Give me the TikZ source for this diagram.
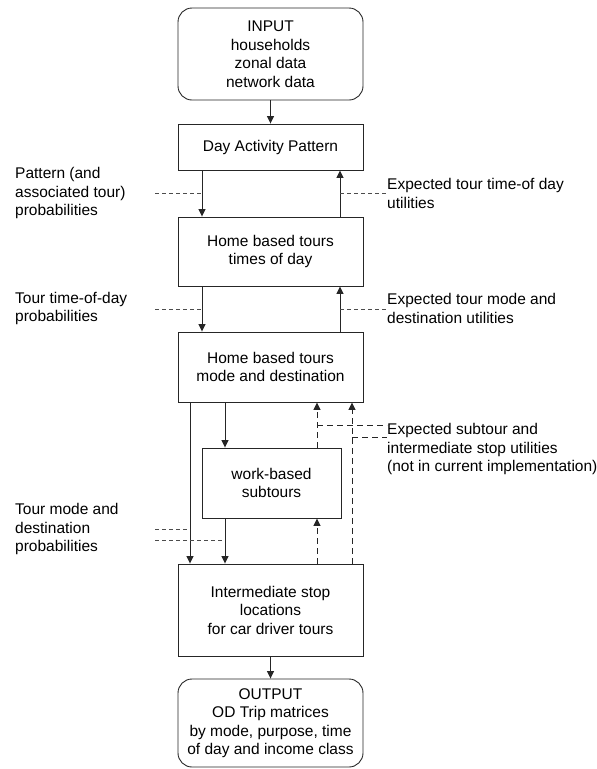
\documentclass[tikz,border=0pt]{standalone}
\usepackage{fontspec}
\setmainfont{Liberation Sans}
\usetikzlibrary{arrows.meta,calc}

\begin{document}
\begin{tikzpicture}[x=1pt,y=-1pt,
  every node/.style={font=\fontsize{15.5}{18.5}\selectfont},
  stepbox/.style={draw=black!85,line width=0.9pt,minimum width=185pt,align=center,inner sep=0pt},
  endbox/.style={stepbox,rounded corners=14pt},
  flow/.style={draw=black!85,line width=0.9pt,-{Triangle[length=7.5pt,width=7pt]}},
  feedback/.style={flow,dash pattern=on 6pt off 4pt},
  leader/.style={draw=black!70,line width=0.8pt,dash pattern=on 4pt off 3pt},
  leaderlong/.style={draw=black!85,line width=0.8pt,dash pattern=on 6pt off 4pt},
  note/.style={anchor=west,align=left,inner sep=0pt}]

\useasboundingbox (0,0) rectangle (597,769);

% model steps
\node[endbox,minimum height=92pt] (input) at (270.5,54)
  {INPUT\\households\\zonal data\\network data};
\node[stepbox,minimum height=46pt] (day) at (270.5,147) {Day Activity Pattern};
\node[stepbox,minimum height=69pt] (tod) at (270.5,251.5) {Home based tours\\times of day};
\node[stepbox,minimum height=70pt] (mdest) at (270.5,367) {Home based tours\\mode and destination};
\node[stepbox,minimum width=139pt,minimum height=70pt] (work) at (271.5,483) {work-based\\subtours};
\node[stepbox,minimum height=92pt] (stops) at (270.5,610)
  {Intermediate stop\\locations\\for car driver tours};
\node[endbox,minimum height=88pt] (output) at (270.5,723)
  {OUTPUT\\OD Trip matrices\\by mode, purpose, time\\of day and income class};

% columns of the vertical connectors
\coordinate (cdown) at (202,0);
\coordinate (cup) at (340,0);
\coordinate (cbypass) at (190,0);
\coordinate (csub) at (225,0);
\coordinate (cfb) at (317,0);
\coordinate (cfbo) at (352,0);

% free ends of the leader lines
\coordinate (l1) at (155,193);
\coordinate (r1) at (387,193);
\coordinate (l2) at (155,309);
\coordinate (r2) at (387,309);
\coordinate (r3a) at (387,425);
\coordinate (r3b) at (387,437);
\coordinate (l3a) at (155,529);
\coordinate (l3b) at (155,540);

% forward flow
\draw[flow] (input) -- (day);
\draw[flow] (day.south -| cdown) -- (tod.north -| cdown);
\draw[flow] (tod.south -| cdown) -- (mdest.north -| cdown);
\draw[flow] (mdest.south -| cbypass) -- (stops.north -| cbypass);
\draw[flow] (mdest.south -| csub) -- (work.north -| csub);
\draw[flow] (work.south -| csub) -- (stops.north -| csub);
\draw[flow] (stops) -- (output);

% expected utilities passed upwards
\draw[flow] (tod.north -| cup) -- (day.south -| cup);
\draw[flow] (mdest.north -| cup) -- (tod.south -| cup);
\draw[feedback] (stops.north -| cfb) -- (work.south -| cfb);
\draw[feedback] (work.north -| cfb) -- (mdest.south -| cfb);
\draw[feedback] (stops.north -| cfbo) -- (mdest.south -| cfbo);

% leader lines to the annotations
\draw[leader] (l1) -- (l1 -| cdown);
\draw[leader] (r1 -| cup) -- (r1);
\draw[leader] (l2) -- (l2 -| cdown);
\draw[leader] (r2 -| cup) -- (r2);
\draw[leaderlong] (r3a -| cfb) -- (r3a);
\draw[leaderlong] (r3b -| cfbo) -- (r3b);
\draw[leader] (l3a) -- (l3a -| cbypass);
\draw[leader] (l3b) -- (l3b -| csub);

% annotations
\node[note] (n1) at (15,193) {Pattern (and\\associated tour)\\probabilities};
\node[note] (n2) at (387,193.5) {Expected tour time-of day\\utilities};
\node[note] (n3) at (15,308.5) {Tour time-of-day\\probabilities};
\node[note] (n4) at (387,308.5) {Expected tour mode and\\destination utilities};
\node[note] (n5) at (387,449) {Expected subtour and\\intermediate stop utilities\\(not in current implementation)};
\node[note] (n6) at (15,529) {Tour mode and\\destination\\probabilities};

\end{tikzpicture}
\end{document}
